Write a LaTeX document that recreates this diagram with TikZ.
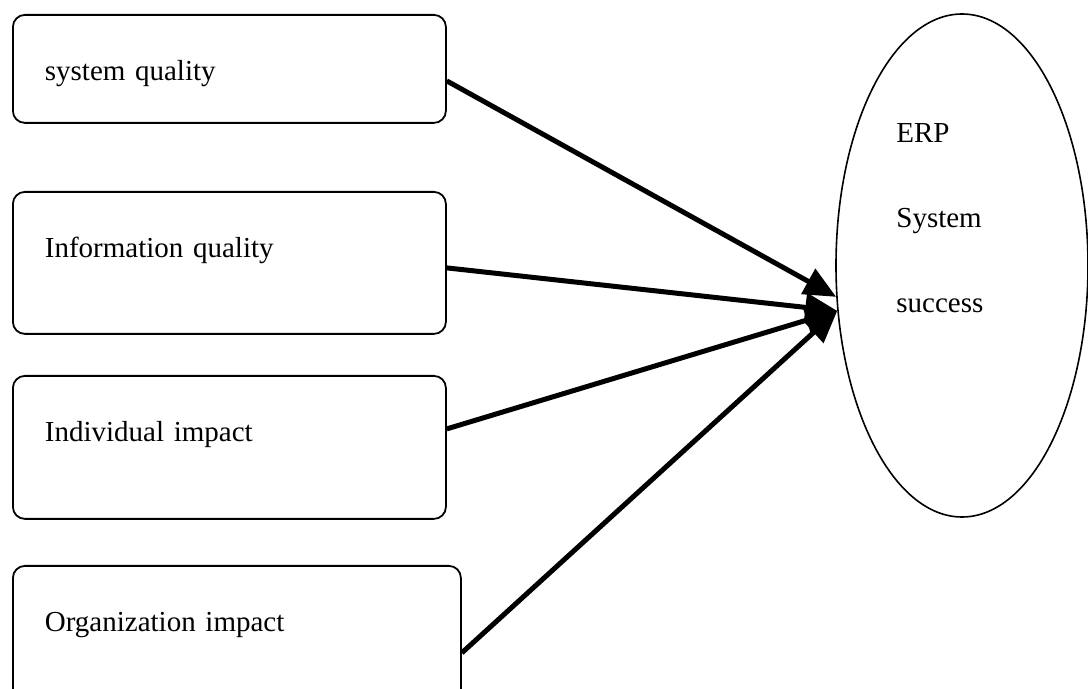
\documentclass[tikz,border=0pt]{standalone}
\usepackage{fontspec}
\setmainfont{Liberation Serif}
\usetikzlibrary{shapes.geometric,arrows.meta}

\begin{document}
\begin{tikzpicture}[x=0.5pt,y=-0.5pt,
        factor/.style={draw,line width=0.9pt,rounded corners=6pt,anchor=north west,
            align=left,inner xsep=16pt,inner ysep=0pt,text height=33pt,
            font=\fontsize{14.5}{17}\selectfont},
        link/.style={line width=2.5pt,-{Triangle[length=16pt,width=14pt]}}]
    \useasboundingbox (0,0) rectangle (1088,689);

    % Success factors
    \node[factor,text width=184.5pt,text depth=21pt] (sysq) at (12,14) {system quality};
    \node[factor,text width=184.5pt,text depth=38pt] (infq) at (12,191) {Information quality};
    \node[factor,text width=184.5pt,text depth=38.5pt] (indi) at (12,375) {Individual impact};
    \node[factor,text width=192pt,text depth=38pt] (orgi) at (12,565) {Organization impact};

    % ERP success
    \node[ellipse,draw,line width=0.8pt,minimum width=126pt,minimum height=251.5pt,inner sep=0pt] (erp) at (962,265.5) {};
    \node[anchor=base west,align=left,inner sep=0pt,font=\fontsize{14.5}{42.5}\selectfont] (erptext) at (896,313) {ERP\\System\\success};

    % Links
    \draw[link] ([yshift=-6pt]sysq.east) -- (erp.194.6);
    \draw[link] ([yshift=-2.5pt]infq.east) -- (erp.200.6);
    \draw[link] ([yshift=9.25pt]indi.east) -- (erp.200.6);
    \draw[link] ([yshift=-8pt]orgi.east) -- (erp.200.6);
\end{tikzpicture}
\end{document}
